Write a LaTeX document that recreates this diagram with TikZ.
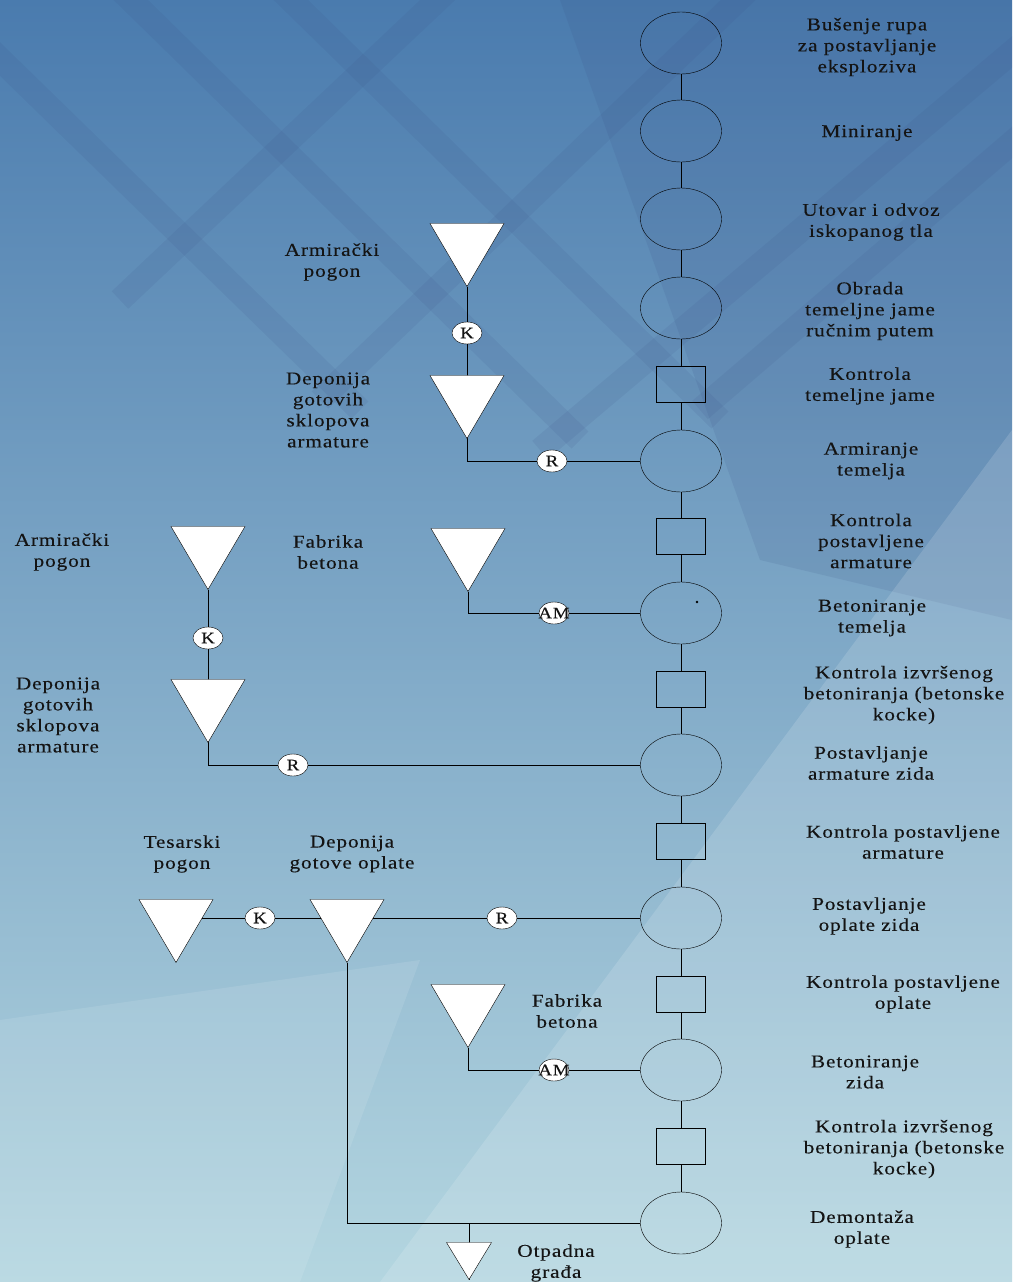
\documentclass[tikz,border=0pt]{standalone}
\usepackage{fontspec}
\setmainfont{Liberation Serif}[FakeStretch=1.18,LetterSpace=5,FakeBold=0.25]
\usetikzlibrary{shapes.geometric}
\pgfdeclarelayer{bg}
\pgfdeclarelayer{lines}
\pgfsetlayers{bg,lines,main}
\definecolor{txt}{HTML}{141414}
\definecolor{bgtop}{HTML}{4A7BAE}
\definecolor{bgmid}{HTML}{58A4CF}
\definecolor{bgbot}{HTML}{B4D6E0}
\definecolor{bar}{HTML}{3A4F86}
\begin{document}
\begin{tikzpicture}[x=1pt,y=-1pt,line width=0.8pt,
  proc/.style={ellipse,draw,minimum width=81pt,minimum height=62pt,inner sep=0pt},
  ctrl/.style={rectangle,draw,minimum width=49pt,minimum height=36pt,inner sep=0pt},
  store/.style={isosceles triangle,isosceles triangle stretches,draw,fill=white,rotate=-90,
    minimum width=74pt,minimum height=63pt,inner sep=0pt,anchor=apex},
  smallstore/.style={store,minimum width=45pt,minimum height=37pt},
  tag/.style={ellipse,draw,fill=white,minimum width=30pt,minimum height=22pt,inner sep=0pt,
    font=\fontsize{16pt}{16pt}\selectfont,text=txt},
  lab/.style={align=center,inner sep=0pt,text=txt,font=\fontsize{18pt}{21pt}\selectfont},
  bgbar/.style={line width=24pt,draw=bar,opacity=0.11}]
\useasboundingbox (0,0) rectangle (1012,1282);
\begin{pgfonlayer}{bg}
  \shade[top color=bgtop,middle color=bgmid,bottom color=bgbot] (0,0) rectangle (1012,1282);
  % darker grey-blue plane on the right
  \fill[bar,opacity=0.13] (560,0) -- (1012,0) -- (1012,620) -- (760,560) -- cycle;
  % lighter planes
  \fill[white,opacity=0.14] (380,1282) -- (1012,430) -- (1012,1282) -- cycle;
  \fill[white,opacity=0.10] (0,1020) -- (420,960) -- (300,1282) -- (0,1282) -- cycle;
  % faint lattice of the background photo
  \begin{scope}
    \clip (0,0) rectangle (1012,1282);
    \draw[bgbar] (-40,20) -- (360,410);
    \draw[bgbar] (90,-40) -- (580,440);
    \draw[bgbar] (250,-40) -- (720,420);
    \draw[bgbar] (120,300) -- (480,-40);
    \draw[bgbar] (320,400) -- (780,-40);
    \draw[bgbar] (540,450) -- (1050,20);
    \draw[bgbar] (700,410) -- (1050,110);
  \end{scope}
\end{pgfonlayer}

% main column
\node[proc] (P1) at (681,43) {};
\node[proc] (P2) at (681,131) {};
\node[proc] (P3) at (681,219) {};
\node[proc] (P4) at (681,308) {};
\node[ctrl] (C1) at (681,384) {};
\node[proc] (P5) at (681,461) {};
\node[ctrl] (C2) at (681,536) {};
\node[proc] (P6) at (681,613) {};
\node[ctrl] (C3) at (681,689) {};
\node[proc] (P7) at (681,765) {};
\node[ctrl] (C4) at (681,841) {};
\node[proc] (P8) at (681,918) {};
\node[ctrl] (C5) at (681,994) {};
\node[proc] (P9) at (681,1070) {};
\node[ctrl] (C6) at (681,1146) {};
\node[proc] (P10) at (681,1223) {};
\fill[black] (697,602) circle (1.3pt);

% right labels
\node[lab] (L1) at (867,47) {Bušenje rupa\\za postavljanje\\eksploziva};
\node[lab] (L2) at (867,133) {Miniranje};
\node[lab] (L3) at (871,222) {Utovar i odvoz\\iskopanog tla};
\node[lab] (L4) at (870,311) {Obrada\\temeljne jame\\ručnim putem};
\node[lab] (L5) at (870,386) {Kontrola\\temeljne jame};
\node[lab] (L6) at (871,461) {Armiranje\\temelja};
\node[lab] (L7) at (871,541) {Kontrola\\postavljene\\armature};
\node[lab] (L8) at (872,618) {Betoniranje\\temelja};
\node[lab] (L9) at (904,695) {Kontrola izvršenog\\betoniranja (betonske\\kocke)};
\node[lab] (L10) at (871,763) {Postavljanje\\armature zida};
\node[lab] (L11) at (903,842) {Kontrola postavljene\\armature};
\node[lab] (L12) at (869,916) {Postavljanje\\oplate zida};
\node[lab] (L13) at (903,994) {Kontrola postavljene\\oplate};
\node[lab] (L14) at (865,1072) {Betoniranje\\zida};
\node[lab] (L15) at (904,1149) {Kontrola izvršenog\\betoniranja (betonske\\kocke)};
\node[lab] (L16) at (862,1229) {Demontaža\\oplate};

% storages
\node[store] (T1) at (467,287) {};
\node[store] (T2) at (467,439) {};
\node[store] (T3) at (208,590) {};
\node[store] (T4) at (208,743) {};
\node[store] (T5) at (468,592) {};
\node[store] (T6) at (176,963) {};
\node[store] (T7) at (347,963) {};
\node[store] (T8) at (468,1048) {};
\node[smallstore] (T9) at (469,1280) {};

% transport tags
\node[tag] (K1) at (467,333) {K};
\node[tag] (R1) at (552,461) {R};
\node[tag] (AM1) at (554,613) {\makebox[0pt]{AM}};
\node[tag] (K2) at (208,638) {K};
\node[tag] (R2) at (293,765) {R};
\node[tag] (K3) at (260,918) {K};
\node[tag] (R3) at (502,918) {R};
\node[tag] (AM2) at (554,1070) {\makebox[0pt]{AM}};

% left labels
\node[lab] (A1) at (332,262) {Armirački\\pogon};
\node[lab] (A2) at (328,410) {Deponija\\gotovih\\sklopova\\armature};
\node[lab] (A3) at (62,552) {Armirački\\pogon};
\node[lab] (A4) at (58,715) {Deponija\\gotovih\\sklopova\\armature};
\node[lab] (A5) at (328,552) {Fabrika\\betona};
\node[lab] (A6) at (182,854) {Tesarski\\pogon};
\node[lab] (A7) at (352,854) {Deponija\\gotove oplate};
\node[lab] (A8) at (567,1011) {Fabrika\\betona};
\node[lab] (A9) at (556,1263) {Otpadna\\građa};

\begin{pgfonlayer}{lines}
  \draw (P1) -- (P2) -- (P3) -- (P4) -- (C1) -- (P5) -- (C2) -- (P6) -- (C3) -- (P7)
        -- (C4) -- (P8) -- (C5) -- (P9) -- (C6) -- (P10);
  \draw (T1.apex) -- (T2.apex);
  \draw (T2.apex) |- (R1.center);
  \draw (R1) -- (P5);
  \draw (T5.apex) |- (AM1.center);
  \draw (AM1) -- (P6);
  \draw (T3.apex) -- (T4.apex);
  \draw (T4.apex) |- (R2.center);
  \draw (R2) -- (P7);
  \draw (T6.apex |- K3.center) -- (T7.apex |- K3.center);
  \draw (T7.apex |- R3.center) -- (R3.center);
  \draw (R3) -- (P8);
  \draw (T8.apex) |- (AM2.center);
  \draw (AM2) -- (P9);
  \draw (T7.apex) |- (P10);
  \draw (T9.apex |- P10.center) -- (T9.apex);
\end{pgfonlayer}
\end{tikzpicture}
\end{document}
